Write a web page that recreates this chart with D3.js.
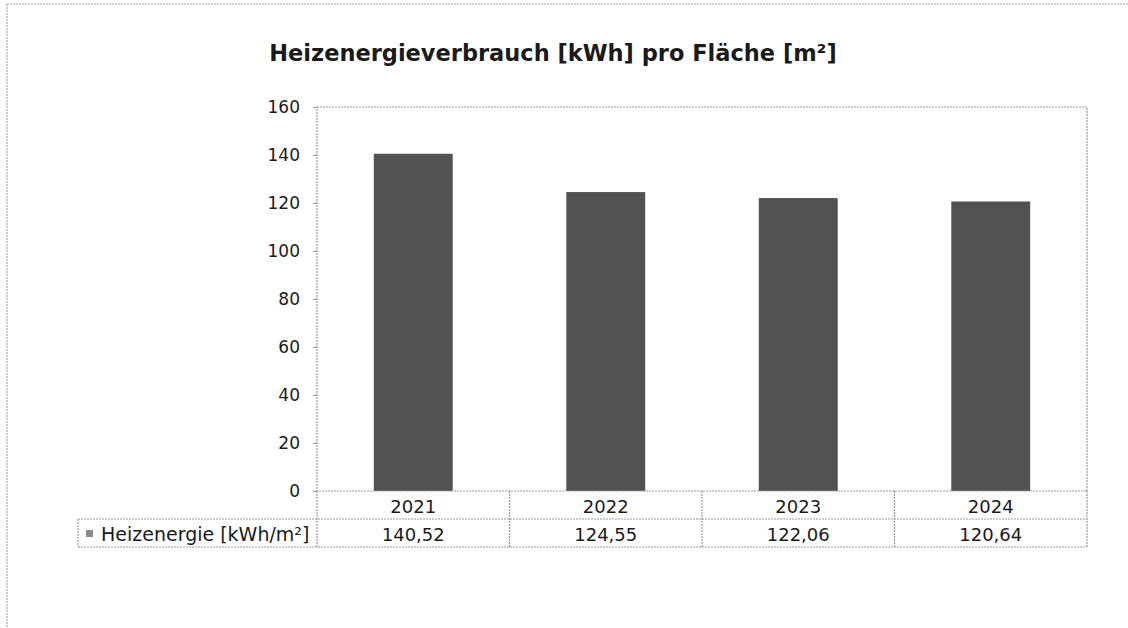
<!DOCTYPE html>
<html>
<head>
<meta charset="utf-8">
<script src="https://cdn.jsdelivr.net/npm/d3@7"></script>
<style>
  body { margin: 0; background: #fff; }
  svg { display: block; font-family: "DejaVu Sans", Verdana, sans-serif; }
</style>
</head>
<body>
<svg id="vis" width="1128" height="628"></svg>
<script>
// chart data
var years = ["2021", "2022", "2023", "2024"];
var values = [140.52, 124.55, 122.06, 120.64];
var yTicks = [0, 20, 40, 60, 80, 100, 120, 140, 160];
var seriesName = "Heizenergie [kWh/m²]";
var title = "Heizenergieverbrauch [kWh] pro Fläche [m²]";

var vis = d3.select("#vis");
var line = "#9a9a9a";

// plot box
var plotLeft = 317, plotRight = 1087, plotTop = 107, plotBottom = 491;
var rowH = 28;

var x = d3.scaleBand().domain(years).range([plotLeft, plotRight]).paddingInner(0).paddingOuter(0);
var y = d3.scaleLinear().domain([0, 160]).range([plotBottom, plotTop]);

var fmt = v => d3.format(".2f")(v).replace(".", ",");

// outer frame (scan of a printed page)
vis.append("rect")
    .attr("x", 7).attr("y", 4)
    .attr("width", 1140).attr("height", 640)
    .attr("fill", "none")
    .attr("stroke", "#a8a8a8")
    .attr("stroke-width", 1.2)
    .attr("stroke-dasharray", "2,1");

// title
vis.append("text")
    .attr("x", 553).attr("y", 61)
    .attr("text-anchor", "middle")
    .attr("font-size", "22.5px")
    .attr("font-weight", "bold")
    .attr("fill", "#1a1a1a")
    .text(title);

// bars
vis.selectAll(".bar").data(values)
    .enter().append("rect")
    .attr("class", "bar")
    .attr("x", (d, i) => x(years[i]) + x.bandwidth() * 0.295)
    .attr("width", x.bandwidth() * 0.41)
    .attr("y", d => y(d))
    .attr("height", d => y(0) - y(d))
    .attr("fill", "#525252");

// plot border
vis.append("rect")
    .attr("x", plotLeft).attr("y", plotTop)
    .attr("width", plotRight - plotLeft).attr("height", plotBottom - plotTop)
    .attr("fill", "none")
    .attr("stroke", line)
    .attr("stroke-width", 1.2)
    .attr("stroke-dasharray", "2,1");

// y axis
var yAxis = d3.axisLeft(y).tickValues(yTicks).tickSize(4).tickPadding(13);
var ga = vis.append("g")
    .attr("transform", `translate(${plotLeft},0)`)
    .call(yAxis);
ga.select(".domain").remove();
ga.selectAll(".tick line").attr("stroke", line);
ga.selectAll(".tick text")
    .attr("font-size", "17px")
    .attr("font-family", "DejaVu Sans, Verdana, sans-serif")
    .attr("fill", "#1a1a1a");

// data table under the plot
var tbl = vis.append("g").attr("stroke", line).attr("stroke-width", 1.2).attr("stroke-dasharray", "2,1");
var legLeft = 78;
tbl.append("line").attr("x1", legLeft).attr("x2", plotRight).attr("y1", plotBottom + rowH).attr("y2", plotBottom + rowH);
tbl.append("line").attr("x1", legLeft).attr("x2", plotRight).attr("y1", plotBottom + 2 * rowH).attr("y2", plotBottom + 2 * rowH);
tbl.append("line").attr("x1", legLeft).attr("x2", legLeft).attr("y1", plotBottom + rowH).attr("y2", plotBottom + 2 * rowH);
var edges = years.map(c => x(c)).concat([plotRight]);
tbl.selectAll(".vl").data(edges)
    .enter().append("line")
    .attr("x1", d => d).attr("x2", d => d)
    .attr("y1", plotBottom).attr("y2", plotBottom + 2 * rowH);

vis.selectAll(".yr").data(years)
    .enter().append("text")
    .attr("x", d => x(d) + x.bandwidth() / 2)
    .attr("y", plotBottom + 22)
    .attr("text-anchor", "middle")
    .attr("font-size", "18px")
    .attr("fill", "#1a1a1a")
    .text(d => d);

vis.selectAll(".val").data(values)
    .enter().append("text")
    .attr("x", (d, i) => x(years[i]) + x.bandwidth() / 2)
    .attr("y", plotBottom + rowH + 22)
    .attr("text-anchor", "middle")
    .attr("font-size", "18px")
    .attr("fill", "#1a1a1a")
    .text(d => fmt(d));

// legend key in the table
vis.append("rect")
    .attr("x", 86).attr("y", plotBottom + rowH + 11)
    .attr("width", 7).attr("height", 7)
    .attr("fill", "#8a8a8a");
vis.append("text")
    .attr("x", 101).attr("y", plotBottom + rowH + 22)
    .attr("font-size", "19px")
    .attr("fill", "#1a1a1a")
    .text(seriesName);
</script>
</body>
</html>
